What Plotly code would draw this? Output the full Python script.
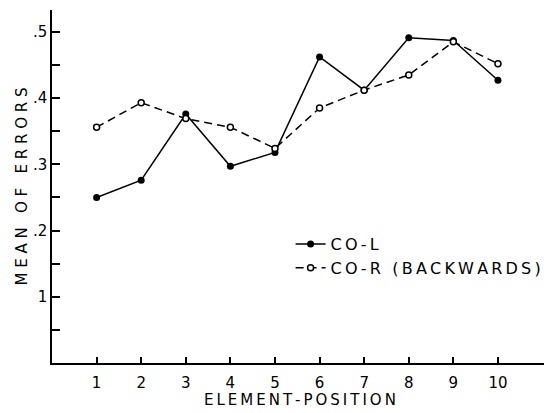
import plotly.graph_objects as go

positions = [1, 2, 3, 4, 5, 6, 7, 8, 9, 10]
co_l = [0.250, 0.276, 0.376, 0.297, 0.318, 0.462, 0.412, 0.491, 0.487, 0.427]
co_r = [0.356, 0.393, 0.369, 0.356, 0.324, 0.385, 0.412, 0.435, 0.485, 0.452]
ytick_vals = [0.1, 0.2, 0.3, 0.4, 0.5]
ytick_text = ["1", ".2", ".3", ".4", ".5"]
xtick_text = ["1", "2", "3", "4", "5", "6", "7", "8", "9", "10"]
series_names = ["CO-L", "CO-R (BACKWARDS)"]
x_title = "ELEMENT-POSITION"
y_title = "MEAN OF ERRORS"

FONT = "DejaVu Sans"
TS = "\u2009"


def spaced(s):
    return TS.join(s)


fig = go.Figure()
fig.add_trace(go.Scatter(
    x=positions, y=co_l, name=spaced(series_names[0]), mode="lines+markers",
    line=dict(color="black", width=1.5),
    marker=dict(symbol="circle", size=7, color="black"),
))
fig.add_trace(go.Scatter(
    x=positions, y=co_r, name=spaced(series_names[1]), mode="lines+markers",
    line=dict(color="black", width=1.5, dash="8px,5px"),
    marker=dict(symbol="circle", size=6, color="white", line=dict(color="black", width=1.5)),
))

fig.update_layout(
    width=552, height=413,
    margin=dict(l=44, r=13, t=2, b=58),
    paper_bgcolor="white", plot_bgcolor="white",
    font=dict(family=FONT, color="black", size=15),
    showlegend=True,
    legend=dict(
        x=0.482, y=0.385, xanchor="left", yanchor="top",
        bgcolor="rgba(0,0,0,0)", font=dict(size=16, family=FONT),
        tracegroupgap=0, itemwidth=30,
    ),
    xaxis=dict(
        range=[0, 11.1], showgrid=False, zeroline=False, automargin=False,
        showline=True, linecolor="black", linewidth=1.5,
        tickmode="array", tickvals=positions, ticktext=xtick_text,
        ticks="inside", ticklen=6, tickcolor="black", tickwidth=1.5,
        tickfont=dict(size=15), ticklabelstandoff=5,
    ),
    yaxis=dict(
        range=[0, 0.533], showgrid=False, zeroline=False, automargin=False,
        showline=True, linecolor="black", linewidth=1.5,
        tickmode="array", tickvals=ytick_vals, ticktext=ytick_text,
        ticks="inside", ticklen=8, tickcolor="black", tickwidth=1.5,
        tickfont=dict(size=15),
        minor=dict(tickvals=[0.05, 0.15, 0.25, 0.35, 0.45], ticks="inside", ticklen=8,
                   tickcolor="black", tickwidth=1.5),
        title=dict(text="M E A N   O F   E R R O R S", font=dict(size=15), standoff=2),
    ),
    annotations=[dict(
        text=spaced(x_title), xref="paper", yref="paper", x=0.5, y=-0.104,
        xanchor="center", yanchor="middle", showarrow=False, font=dict(size=15),
    )],
)

fig.write_html("out.html")
